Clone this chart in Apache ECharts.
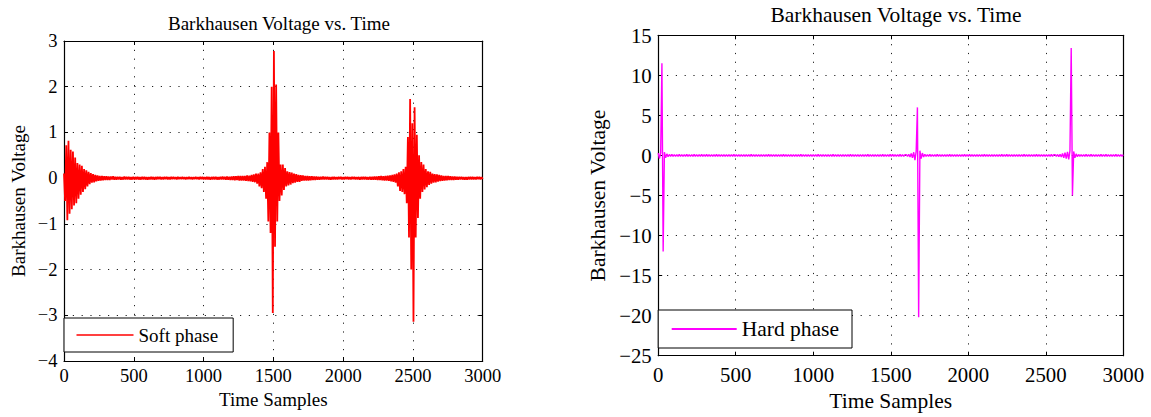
<!DOCTYPE html>
<html>
<head>
<meta charset="utf-8">
<script src="https://cdn.jsdelivr.net/npm/echarts@6/dist/echarts.min.js"></script>
<style>
html,body{margin:0;padding:0;background:#fff;}
#chart{width:1151px;height:417px;}
</style>
</head>
<body>
<div id="chart"></div>
<script>
// ---- data ----
const chartTitle = 'Barkhausen Voltage vs. Time';
const xAxisName = 'Time Samples';
const yAxisName = 'Barkhausen Voltage';
const softName = 'Soft phase';
const hardName = 'Hard phase';
const sampleStep = 8; // one stored value every 8 time samples
const xRange = [0, 3000, 500];
const softYRange = [-4, 3, 1];
const hardYRange = [-25, 15, 5];

const softValues = [
  0.1, -0.5, 0.72, -0.92, 0.82, -0.78, 0.62, -0.68, 0.58, -0.6,
  0.45, -0.55, 0.33, -0.45, 0.3, -0.36, 0.27, -0.3, 0.2, -0.24,
  0.17, -0.18, 0.14, -0.13, 0.11, -0.1, 0.09, -0.09, 0.07, -0.07,
  0.06, -0.06, 0.05, -0.05, 0.05, -0.045, 0.04, -0.04, 0.04, -0.04,
  0.035, -0.04, 0.035, -0.03, 0.04, -0.035, 0.03, -0.035, 0.03, -0.03,
  0.03, -0.035, 0.025, -0.03, 0.035, -0.03, 0.03, -0.025, 0.03, -0.03,
  0.025, -0.03, 0.03, -0.03, 0.025, -0.025, 0.03, -0.03, 0.025, -0.03,
  0.03, -0.025, 0.03, -0.03, 0.025, -0.03, 0.02, -0.025, 0.03, -0.025,
  0.025, -0.03, 0.025, -0.025, 0.03, -0.02, 0.025, -0.025, 0.02, -0.025,
  0.025, -0.02, 0.025, -0.025, 0.02, -0.025, 0.025, -0.02, 0.025, -0.02,
  0.02, -0.025, 0.025, -0.02, 0.02, -0.02, 0.025, -0.02, 0.02, -0.025,
  0.02, -0.02, 0.025, -0.02, 0.02, -0.025, 0.02, -0.02, 0.025, -0.02,
  0.02, -0.025, 0.025, -0.02, 0.025, -0.025, 0.02, -0.025, 0.025, -0.025,
  0.025, -0.03, 0.025, -0.025, 0.03, -0.025, 0.03, -0.03, 0.025, -0.03,
  0.03, -0.03, 0.035, -0.03, 0.03, -0.035, 0.035, -0.035, 0.03, -0.04,
  0.035, -0.04, 0.04, -0.045, 0.04, -0.04, 0.045, -0.05, 0.045, -0.05,
  0.05, -0.055, 0.05, -0.06, 0.06, -0.065, 0.055, -0.07, 0.07, -0.08,
  0.08, -0.09, 0.1, -0.12, 0.1, -0.18, 0.13, -0.22, 0.2, -0.3,
  0.25, -0.45, 0.35, -0.95, 1.0, -1.2, 2.0, -2.95, 2.78, -1.5,
  2.05, -0.95, 1.0, -0.5, 0.3, -0.38, 0.3, -0.26, 0.22, -0.18,
  0.15, -0.16, 0.13, -0.14, 0.12, -0.11, 0.1, -0.1, 0.09, -0.08,
  0.07, -0.08, 0.065, -0.06, 0.06, -0.055, 0.05, -0.05, 0.045, -0.05,
  0.04, -0.045, 0.04, -0.04, 0.035, -0.04, 0.035, -0.035, 0.03, -0.035,
  0.03, -0.03, 0.035, -0.03, 0.03, -0.025, 0.03, -0.03, 0.025, -0.03,
  0.025, -0.025, 0.03, -0.025, 0.02, -0.025, 0.025, -0.02, 0.025, -0.025,
  0.02, -0.025, 0.025, -0.02, 0.025, -0.025, 0.02, -0.025, 0.025, -0.02,
  0.025, -0.025, 0.02, -0.025, 0.025, -0.03, 0.025, -0.025, 0.03, -0.025,
  0.03, -0.03, 0.025, -0.03, 0.03, -0.035, 0.03, -0.035, 0.035, -0.035,
  0.035, -0.04, 0.04, -0.04, 0.045, -0.045, 0.04, -0.05, 0.05, -0.05,
  0.055, -0.06, 0.06, -0.07, 0.07, -0.08, 0.08, -0.1, 0.1, -0.18,
  0.13, -0.28, 0.15, -0.3, 0.2, -0.35, 0.25, -0.55, 0.9, -1.3,
  1.73, -2.0, 1.2, -3.14, 1.55, -1.3, 0.95, -0.87, 0.5, -0.45,
  0.35, -0.3, 0.3, -0.25, 0.2, -0.2, 0.15, -0.15, 0.14, -0.12,
  0.1, -0.1, 0.09, -0.09, 0.08, -0.075, 0.07, -0.065, 0.06, -0.06,
  0.05, -0.055, 0.05, -0.045, 0.045, -0.04, 0.04, -0.04, 0.035, -0.04,
  0.035, -0.035, 0.03, -0.035, 0.03, -0.03, 0.03, -0.03, 0.025, -0.03,
  0.025, -0.03, 0.025, -0.025, 0.03, -0.025, 0.025, -0.025, 0.02, -0.025,
  0.025, -0.02, 0.025, -0.025, 0.02, -0.02
];

const hardValues = [
  0.3, -0.4, 0.35, 11.5, -12.0, 0.4, -0.3, 0.2, -0.15, 0.12,
  -0.1, 0.12, -0.1, 0.1, -0.12, 0.1, -0.1, 0.12, -0.1, 0.1,
  -0.12, 0.1, -0.1, 0.12, -0.1, 0.1, -0.12, 0.1, -0.1, 0.12,
  -0.1, 0.1, -0.12, 0.1, -0.1, 0.12, -0.1, 0.1, -0.1, 0.12,
  -0.1, 0.1, -0.12, 0.1, -0.1, 0.1, -0.1, 0.12, -0.1, 0.1,
  -0.1, 0.1, -0.1, 0.1, -0.12, 0.1, -0.1, 0.1, -0.1, 0.1,
  -0.1, 0.12, -0.1, 0.1, -0.1, 0.1, -0.1, 0.1, -0.12, 0.1,
  -0.1, 0.1, -0.1, 0.1, -0.1, 0.12, -0.1, 0.1, -0.1, 0.1,
  -0.1, 0.1, -0.12, 0.1, -0.1, 0.1, -0.1, 0.1, -0.1, 0.12,
  -0.1, 0.1, -0.1, 0.1, -0.1, 0.1, -0.12, 0.1, -0.1, 0.1,
  -0.1, 0.12, -0.1, 0.1, -0.1, 0.1, -0.1, 0.1, -0.12, 0.1,
  -0.1, 0.1, -0.1, 0.1, -0.1, 0.12, -0.1, 0.1, -0.1, 0.1,
  -0.1, 0.1, -0.12, 0.1, -0.1, 0.1, -0.1, 0.1, -0.1, 0.12,
  -0.1, 0.1, -0.1, 0.1, -0.1, 0.1, -0.12, 0.1, -0.1, 0.1,
  -0.1, 0.12, -0.1, 0.1, -0.1, 0.1, -0.1, 0.1, -0.12, 0.1,
  -0.1, 0.1, -0.1, 0.1, -0.1, 0.12, -0.1, 0.1, -0.1, 0.1,
  -0.1, 0.1, -0.12, 0.1, -0.1, 0.1, -0.1, 0.1, -0.1, 0.12,
  -0.1, 0.1, -0.1, 0.1, -0.1, 0.1, -0.12, 0.1, -0.1, 0.1,
  -0.1, 0.12, -0.1, 0.1, -0.1, 0.1, -0.1, 0.12, -0.1, 0.12,
  -0.1, 0.1, -0.12, 0.1, -0.1, 0.12, -0.1, 0.1, -0.12, 0.1,
  0.1, -0.12, 0.15, -0.2, 0.25, -0.3, 0.4, -0.6, 0.5, 6.0,
  -20.2, 0.6, -0.4, 0.3, -0.2, 0.15, -0.12, 0.1, -0.1, 0.12,
  -0.1, 0.1, -0.12, 0.1, -0.1, 0.12, -0.1, 0.1, -0.1, 0.1,
  -0.12, 0.1, -0.1, 0.1, -0.1, 0.12, -0.1, 0.1, -0.1, 0.1,
  -0.1, 0.1, -0.12, 0.1, -0.1, 0.1, -0.1, 0.12, -0.1, 0.1,
  -0.1, 0.12, -0.1, 0.1, -0.1, 0.1, -0.12, 0.1, -0.1, 0.1,
  -0.1, 0.1, -0.1, 0.12, -0.1, 0.1, -0.1, 0.1, -0.12, 0.1,
  -0.1, 0.1, -0.1, 0.1, -0.12, 0.1, -0.1, 0.12, -0.1, 0.1,
  -0.1, 0.12, -0.1, 0.1, -0.1, 0.1, -0.12, 0.1, -0.1, 0.1,
  -0.1, 0.1, -0.12, 0.1, -0.1, 0.12, -0.1, 0.1, -0.1, 0.1,
  -0.12, 0.1, -0.1, 0.1, -0.1, 0.12, -0.1, 0.1, -0.1, 0.1,
  -0.1, 0.1, -0.12, 0.1, -0.1, 0.1, -0.1, 0.12, -0.1, 0.1,
  0.1, -0.12, 0.12, -0.15, 0.15, -0.2, 0.25, -0.3, 0.35, -0.4,
  0.45, -0.5, 0.6, 13.4, -5.0, 0.5, -0.3, 0.2, -0.15, 0.12,
  -0.1, 0.1, -0.12, 0.1, -0.1, 0.12, -0.1, 0.1, -0.1, 0.12,
  -0.1, 0.1, -0.12, 0.1, -0.1, 0.1, -0.1, 0.12, -0.1, 0.1,
  -0.1, 0.12, -0.1, 0.1, -0.12, 0.1, -0.1, 0.1, -0.1, 0.12,
  -0.1, 0.1, -0.12, 0.1, -0.1, 0.1
];

// ---- chart ----
const serif = 'Liberation Serif';
const fmt = v => (v < 0 ? '\u2212' + Math.abs(v) : String(v));
const toPairs = vals => vals.map((v, i) => [i * sampleStep, v]);

function axesFor(gi, yr, s) {
  const base = {
    type: 'value', gridIndex: gi,
    axisLine: { show: true, onZero: false, lineStyle: { color: '#000', width: 1.2 } },
    axisTick: { show: true, inside: true, length: 4, lineStyle: { color: '#000' } }
  };
  const xMain = Object.assign({}, base, {
    position: 'bottom', min: xRange[0], max: xRange[1], interval: xRange[2],
    name: xAxisName, nameLocation: 'middle', nameGap: s.xNameGap,
    nameTextStyle: { fontFamily: serif, fontSize: s.name, color: '#000' },
    axisLabel: { show: true, margin: s.xLabelMargin, fontFamily: serif, fontSize: s.tick, color: '#000',
      showMinLabel: true, showMaxLabel: true, formatter: fmt },
    splitLine: { show: true, lineStyle: { color: '#222', width: 1, type: [1.2, 7.6] } }
  });
  const xTop = Object.assign({}, base, {
    position: 'top', min: xRange[0], max: xRange[1], interval: xRange[2],
    axisLabel: { show: false }, splitLine: { show: false }
  });
  const yMain = Object.assign({}, base, {
    position: 'left', min: yr[0], max: yr[1], interval: yr[2],
    name: yAxisName, nameLocation: 'middle', nameGap: s.yNameGap,
    nameTextStyle: { fontFamily: serif, fontSize: s.name, color: '#000' },
    axisLabel: { show: true, margin: s.yLabelMargin, fontFamily: serif, fontSize: s.tick, color: '#000',
      showMinLabel: true, showMaxLabel: true, formatter: fmt },
    splitLine: { show: true, lineStyle: { color: '#222', width: 1, type: [1.2, 7.6] } }
  });
  const yRight = Object.assign({}, base, {
    position: 'right', min: yr[0], max: yr[1], interval: yr[2],
    axisLabel: { show: false }, splitLine: { show: false }
  });
  return { x: [xMain, xTop], y: [yMain, yRight] };
}

const leftStyle = { tick: 18.5, name: 19, xLabelMargin: 5, xNameGap: 29, yLabelMargin: 6.5, yNameGap: 36 };
const rightStyle = { tick: 20.8, name: 21.5, xLabelMargin: 8, xNameGap: 33, yLabelMargin: 6.5, yNameGap: 49 };
const aL = axesFor(0, softYRange, leftStyle);
const aR = axesFor(1, hardYRange, rightStyle);

const option = {
  animation: false,
  backgroundColor: '#fff',
  title: [
    { text: chartTitle, left: 274, top: 9, textAlign: 'center',
      textStyle: { fontFamily: serif, fontSize: 19, fontWeight: 'normal', color: '#000' } },
    { text: chartTitle, left: 891, top: -1, textAlign: 'center',
      textStyle: { fontFamily: serif, fontSize: 21.5, fontWeight: 'normal', color: '#000' } }
  ],
  grid: [
    { left: 64, top: 41, width: 418.7, height: 320, containLabel: false },
    { left: 658.2, top: 35.3, width: 465.1, height: 320.4, containLabel: false }
  ],
  xAxis: [aL.x[0], aL.x[1], aR.x[0], aR.x[1]],
  yAxis: [aL.y[0], aL.y[1], aR.y[0], aR.y[1]],
  legend: [
    { data: [{ name: softName, icon: 'rect' }], left: 64, top: 318, orient: 'vertical',
      backgroundColor: '#fff', borderColor: '#000', borderWidth: 1, borderRadius: 0,
      padding: [7.5, 15, 7.5, 12.5], itemWidth: 57, itemHeight: 1.3,
      textStyle: { fontFamily: serif, fontSize: 19, color: '#000' } },
    { data: [{ name: hardName, icon: 'rect' }], left: 658.2, top: 310, orient: 'vertical',
      backgroundColor: '#fff', borderColor: '#000', borderWidth: 1, borderRadius: 0,
      padding: [8, 13, 8, 13.5], itemWidth: 65, itemHeight: 1.8,
      textStyle: { fontFamily: serif, fontSize: 21.5, color: '#000' } }
  ],
  series: [
    { name: softName, type: 'line', xAxisIndex: 0, yAxisIndex: 0,
      data: toPairs(softValues), symbol: 'none', showSymbol: false,
      lineStyle: { color: '#ff0000', width: 1.8 }, itemStyle: { color: '#ff0000' },
      clip: true, z: 3 },
    { name: hardName, type: 'line', xAxisIndex: 2, yAxisIndex: 2,
      data: toPairs(hardValues), symbol: 'none', showSymbol: false,
      lineStyle: { color: '#ff00ff', width: 1.4 }, itemStyle: { color: '#ff00ff' },
      clip: true, z: 3 }
  ]
};

const chart = echarts.init(document.getElementById('chart'), null, { renderer: 'svg' });
chart.setOption(option);
</script>
</body>
</html>
